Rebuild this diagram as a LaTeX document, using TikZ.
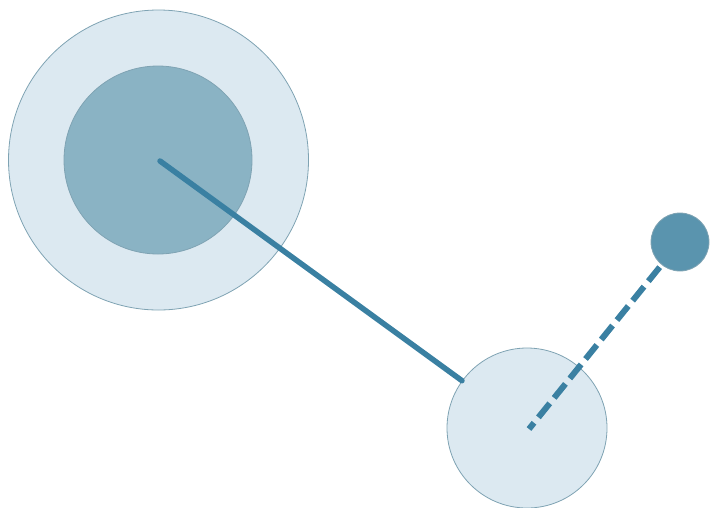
\documentclass[tikz,border=0pt]{standalone}
\begin{document}
\begin{tikzpicture}[x=1pt,y=-1pt,
  ring/.style={circle,draw=edgec,line width=0.8pt,inner sep=0pt},
  link/.style={draw=linec,line width=5.5pt},
  dashlink/.style={draw=linec,line width=6pt,dash pattern=on 18pt off 7pt,dash phase=10pt}]
\definecolor{edgec}{HTML}{7FA3B3}
\definecolor{lightf}{HTML}{DCE9F1}
\definecolor{midf}{HTML}{8AB3C4}
\definecolor{linec}{HTML}{3A80A2}
\definecolor{dotf}{HTML}{5A94AE}
\useasboundingbox (0,0) rectangle (711,507);
\node[ring,fill=lightf,minimum size=300pt] (outer) at (158.5,160) {};
\node[ring,fill=midf,minimum size=188pt] (inner) at (158,160) {};
\node[ring,fill=lightf,minimum size=160pt] (small) at (527,428) {};
\node[ring,fill=dotf,minimum size=58pt] (dot) at (680,242) {};
\coordinate (hub) at (160,161);
\coordinate (spoke) at (529,429);
\draw[link,line cap=round] (hub) -- (small);
\draw[dashlink] (spoke) -- (dot);
\end{tikzpicture}
\end{document}
